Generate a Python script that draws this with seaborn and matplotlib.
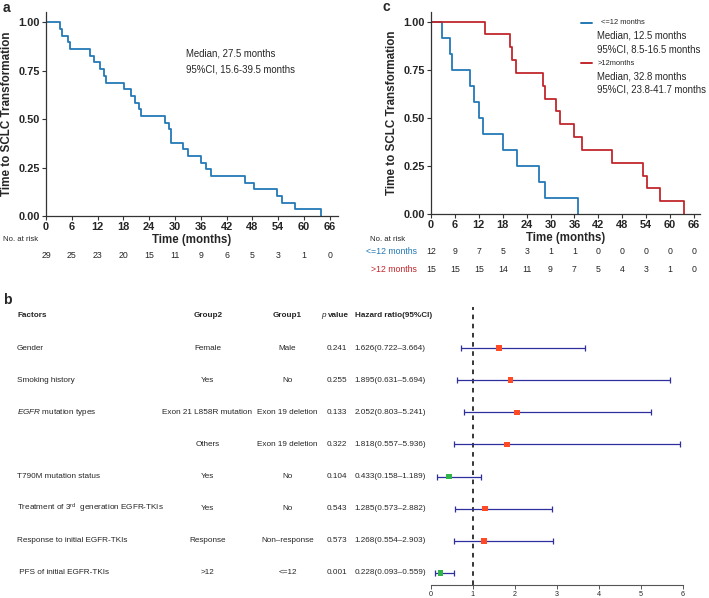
import numpy as np
import pandas as pd
import matplotlib
matplotlib.use('Agg')
import matplotlib.pyplot as plt
import seaborn as sns
from matplotlib.transforms import blended_transform_factory
from matplotlib.lines import Line2D

# ---------------- data ----------------
time_ticks = list(range(0, 67, 6))
# panel a: event times (months), all 29 patients transformed
a_event_times = [3.25, 3.8, 5.2, 5.6, 10.2, 11.2, 12.5, 13.5, 13.9, 18.1,
                 19.75, 20.7, 21.7, 22.2, 27.65, 28.6, 29.05, 29.05, 31.75, 33.1,
                 36.1, 37.1, 38.3, 46.2, 48.4, 53.8, 54.9, 58.0, 64.05]
a_risk = [29, 25, 23, 20, 15, 11, 9, 6, 5, 3, 1, 0]

# panel c
c_groups = ['<=12 months', '>12 months']
c_short_times = [2.85, 4.8, 5.3, 9.8, 10.8, 12.1, 13.0, 18.0, 21.6, 27.1, 28.6, 36.8]
c_long_times = [13.6, 19.8, 20.2, 21.3, 28.0, 28.6, 31.3, 32.3, 36.0, 37.8,
                45.5, 53.3, 54.2, 57.4, 63.5]
c_short_risk = [12, 9, 7, 5, 3, 1, 1, 0, 0, 0, 0, 0]
c_long_risk = [15, 15, 15, 14, 11, 9, 7, 5, 4, 3, 1, 0]

# panel b
factors = ['Gender', 'Smoking history', r'$\mathit{EGFR}$ mutation types', '',
           'T790M mutation status', r'Treatment of 3$^{\mathrm{rd}}$  generation EGFR-TKIs',
           'Response to initial EGFR-TKIs', ' PFS of initial EGFR-TKIs']
group2 = ['Female', 'Yes', 'Exon 21 L858R mutation', 'Others', 'Yes', 'Yes', 'Response', '>12']
group1 = ['Male', 'No', 'Exon 19 deletion', 'Exon 19 deletion', 'No', 'No', 'Non\u2013response', '<=12']
pvals = ['0.241', '0.255', '0.133', '0.322', '0.104', '0.543', '0.573', '0.001']
hr = [1.626, 1.895, 2.052, 1.818, 0.433, 1.285, 1.268, 0.228]
hr_lo = [0.722, 0.631, 0.803, 0.557, 0.158, 0.573, 0.554, 0.093]
hr_hi = [3.664, 5.694, 5.241, 5.936, 1.189, 2.882, 2.903, 0.559]

# ---------------- style ----------------
sns.set_style('ticks')
plt.rcParams['font.family'] = ['Liberation Sans', 'DejaVu Sans']
plt.rcParams['mathtext.fontset'] = 'custom'
plt.rcParams['mathtext.rm'] = 'Liberation Sans'
plt.rcParams['mathtext.it'] = 'Liberation Sans:italic'
plt.rcParams['mathtext.bf'] = 'Liberation Sans:bold'

W, H = 709, 598
fig = plt.figure(figsize=(W / 100, H / 100), dpi=100)

def fx(px):
    return px / W

def fy(py):
    return 1 - py / H

BLUE = '#2478b6'
RED = '#c1272d'


def km(times):
    t = np.sort(np.asarray(times, dtype=float))
    n = len(t)
    x = np.concatenate([[0.0], t])
    y = np.concatenate([[1.0], 1 - np.arange(1, n + 1) / n])
    return x, y


def style_km(ax, xmax, ymax):
    ax.set_xlim(0, xmax)
    ax.set_ylim(0, ymax)
    ax.set_xticks(time_ticks)
    ax.set_xticklabels([str(t) for t in time_ticks], fontsize=7.9, fontweight='bold')
    yt = [0, 0.25, 0.5, 0.75, 1.0]
    ax.set_yticks(yt)
    ax.set_yticklabels([f'{v:.2f}' for v in yt], fontsize=7.9, fontweight='bold')
    ax.tick_params(length=3, width=0.8, pad=1.5, color='#333333')
    for s in ['top', 'right']:
        ax.spines[s].set_visible(False)
    for s in ['left', 'bottom']:
        ax.spines[s].set_linewidth(0.9)
        ax.spines[s].set_color('#333333')
    ax.set_xlabel('Time (months)', fontsize=8.3, fontweight='bold', labelpad=1)
    ax.set_ylabel('Time to SCLC Transformation', fontsize=8.4, fontweight='bold', labelpad=4)


# ---------------- panel a ----------------
ax_a = fig.add_axes([fx(46), fy(216), fx(292), 204 / H])
xa, ya = km(a_event_times)
df_a = pd.DataFrame({'time': xa, 'surv': ya})
sns.lineplot(data=df_a, x='time', y='surv', ax=ax_a, estimator=None, sort=False,
             drawstyle='steps-post', color=BLUE, lw=1.3)
style_km(ax_a, 67.9, 1.054)
ax_a.text(fx(186), fy(54), 'Median, 27.5 months', transform=fig.transFigure,
          fontsize=6.9, va='center', ha='left')
ax_a.text(fx(186), fy(69), '95%CI, 15.6-39.5 months', transform=fig.transFigure,
          fontsize=6.9, va='center', ha='left')
fig.text(fx(3), fy(239), 'No. at risk', fontsize=5.6, va='center', ha='left')
tra = blended_transform_factory(ax_a.transData, fig.transFigure)
for t, n in zip(time_ticks, a_risk):
    ax_a.text(t, fy(256), str(n), transform=tra, fontsize=6.3, ha='center', va='center',
              clip_on=False)
fig.text(fx(3), fy(8), 'a', fontsize=10, fontweight='bold', va='center', ha='left')

# ---------------- panel c ----------------
ax_c = fig.add_axes([fx(431), fy(214), fx(269), 202 / H])
xs, ys = km(c_short_times)
xl, yl = km(c_long_times)
df_c = pd.concat([
    pd.DataFrame({'time': xs, 'surv': ys, 'group': c_groups[0]}),
    pd.DataFrame({'time': xl, 'surv': yl, 'group': c_groups[1]}),
], ignore_index=True)
sns.lineplot(data=df_c, x='time', y='surv', hue='group', ax=ax_c, estimator=None,
             sort=False, drawstyle='steps-post', palette=[BLUE, RED], lw=1.3,
             legend=False)
style_km(ax_c, 67.5, 1.05)

# legend
fig.add_artist(Line2D([fx(581), fx(592)], [fy(22.5), fy(22.5)], color=BLUE, lw=1.4))
fig.add_artist(Line2D([fx(581), fx(592)], [fy(63), fy(63)], color=RED, lw=1.4))
fig.text(fx(601), fy(23), '<=12 months', fontsize=5.4, va='center', ha='left')
fig.text(fx(597), fy(35), 'Median, 12.5 months', fontsize=6.9, va='center', ha='left')
fig.text(fx(597), fy(49), '95%CI, 8.5-16.5 months', fontsize=6.9, va='center', ha='left')
fig.text(fx(598), fy(63.5), '>12months', fontsize=5.4, va='center', ha='left')
fig.text(fx(597), fy(76.5), 'Median, 32.8 months', fontsize=6.9, va='center', ha='left')
fig.text(fx(597), fy(90), '95%CI, 23.8-41.7 months', fontsize=6.9, va='center', ha='left')

fig.text(fx(370), fy(239), 'No. at risk', fontsize=5.6, va='center', ha='left')
fig.text(fx(417), fy(251), '<=12 months', fontsize=6.3, va='center', ha='right', color=BLUE)
fig.text(fx(417), fy(270), '>12 months', fontsize=6.3, va='center', ha='right', color=RED)
trc = blended_transform_factory(ax_c.transData, fig.transFigure)
for t, n1, n2 in zip(time_ticks, c_short_risk, c_long_risk):
    ax_c.text(t, fy(251), str(n1), transform=trc, fontsize=6.3, ha='center', va='center',
              clip_on=False)
    ax_c.text(t, fy(270), str(n2), transform=trc, fontsize=6.3, ha='center', va='center',
              clip_on=False)
fig.text(fx(382), fy(7), 'c', fontsize=10, fontweight='bold', va='center', ha='left')

# ---------------- panel b (forest) ----------------
fig.text(fx(3), fy(300), 'b', fontsize=10, fontweight='bold', va='center', ha='left')
ax_b = fig.add_axes([fx(430.7), fy(585), fx(252.3), 278 / H])
rows = np.arange(len(hr))
df_b = pd.DataFrame({'row': rows, 'hr': hr, 'lo': hr_lo, 'hi': hr_hi,
                     'dir': ['up' if v >= 1 else 'down' for v in hr]})
NAVY = '#2e2e9e'
ax_b.axvline(1, color='black', lw=1.1, ls=(0, (3, 3)), zorder=1)
ax_b.errorbar(df_b['hr'], df_b['row'],
              xerr=[df_b['hr'] - df_b['lo'], df_b['hi'] - df_b['hr']],
              fmt='none', ecolor=NAVY, elinewidth=0.9, capsize=2.0, capthick=0.9,
              zorder=2, clip_on=False)
sns.scatterplot(data=df_b, x='hr', y='row', hue='dir', palette={'up': '#ff4a25', 'down': '#2fb34a'},
                marker='s', s=16, linewidth=0, ax=ax_b, legend=False, zorder=3, clip_on=False)
ax_b.set_xlim(0, 6)
ax_b.set_ylim(7.374, -1.276)
ax_b.set_xticks(range(0, 7))
ax_b.set_xticklabels([str(i) for i in range(0, 7)], fontsize=5.2)
ax_b.set_yticks([])
ax_b.set_xlabel('')
ax_b.set_ylabel('')
ax_b.tick_params(axis='x', length=3, width=0.7, pad=1, color='#555555')
for s in ['top', 'right', 'left']:
    ax_b.spines[s].set_visible(False)
ax_b.spines['bottom'].set_color('#555555')
ax_b.spines['bottom'].set_linewidth(0.8)
ax_b.patch.set_alpha(0)

trb = blended_transform_factory(fig.transFigure, ax_b.transData)
hdr_y = -1.0
FS = 5.9
ax_b.text(fx(17), hdr_y, 'Factors', transform=trb, fontsize=FS, fontweight='bold', va='center', ha='left')
ax_b.text(fx(208), hdr_y, 'Group2', transform=trb, fontsize=FS, fontweight='bold', va='center', ha='center')
ax_b.text(fx(287), hdr_y, 'Group1', transform=trb, fontsize=FS, fontweight='bold', va='center', ha='center')
ax_b.text(fx(321), hdr_y, r'$\mathit{p}$', transform=trb, fontsize=FS, va='center', ha='left')
ax_b.text(fx(327.5), hdr_y, 'value', transform=trb, fontsize=FS, fontweight='bold', va='center', ha='left')
ax_b.text(fx(355), hdr_y, 'Hazard ratio(95%CI)', transform=trb, fontsize=FS, fontweight='bold',
          va='center', ha='left')
for i in rows:
    ax_b.text(fx(17), i, factors[i], transform=trb, fontsize=FS, va='center', ha='left')
    ax_b.text(fx(207.5), i, group2[i], transform=trb, fontsize=FS, va='center', ha='center')
    ax_b.text(fx(287.5), i, group1[i], transform=trb, fontsize=FS, va='center', ha='center')
    ax_b.text(fx(337), i, pvals[i], transform=trb, fontsize=FS, va='center', ha='center')
    ax_b.text(fx(390), i, f'{hr[i]:.3f}({hr_lo[i]:.3f}\u2013{hr_hi[i]:.3f})', transform=trb,
              fontsize=FS, va='center', ha='center')

fig.savefig('out.png', dpi=100)
